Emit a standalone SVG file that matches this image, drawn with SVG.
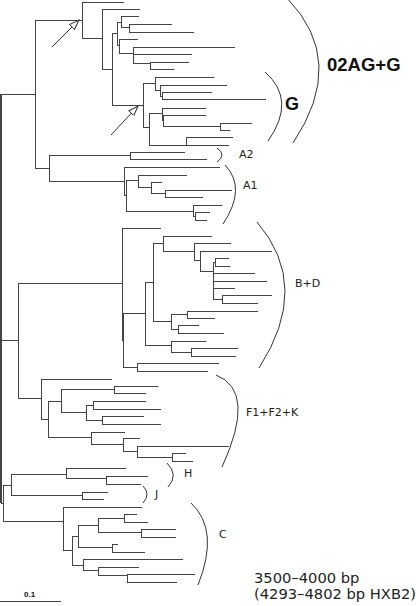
<svg xmlns="http://www.w3.org/2000/svg" width="416" height="606" viewBox="0 0 416 606">
<style>
.br{fill:none;stroke:#444;stroke-width:1;shape-rendering:crispEdges}
.bk{fill:none;stroke:#333;stroke-width:1}
.lb{font-family:"DejaVu Sans",sans-serif;font-size:11px;fill:#222}
.ft{font-family:"DejaVu Sans",sans-serif;font-size:14.7px;fill:#222}
.big{font-family:"Liberation Sans",Arial,sans-serif;font-weight:bold;fill:#111}
.ar{fill:none;stroke:#333;stroke-width:1}
</style>
<defs>
<marker id="oh" markerUnits="userSpaceOnUse" markerWidth="12" markerHeight="10" refX="10" refY="4" orient="auto">
<path d="M0,0.5 L10,4 L0,7.5 z" fill="#fff" stroke="#333" stroke-width="1"/>
</marker>
</defs>
<rect width="416" height="606" fill="#fff"/>
<g id="tree">
<path id="root" class="br" d="M1,94V503" style="stroke-width:2"/>
<path id="clade-02AG-G" class="br" d="M1,94H35 M35,20V168
M35,20H82 M82,2V38 M82,2H124 M82,38H102 M102,9V69 M102,9H140 M102,69H112 M112,33V105
M112,33H117 M117,22V45 M117,22H121 M121,16V27 M121,16H139 M121,27H129 M129,24V32 M129,24H172 M129,32H194
M117,45H119 M119,39V53 M119,39H138 M119,53H133 M133,47V63 M133,47H235 M133,54H192 M133,63H150 M150,62V69 M150,62H189 M150,69H174
M112,105H143 M143,83V127 M143,83H155 M155,77V90 M155,77H214 M155,90H160 M160,85V96 M160,85H227 M160,96H162 M162,92V99 M162,92H212 M162,99H266
M143,127H149 M149,113V145 M149,113H162 M162,108V120 M162,108H206 M162,120H163 M163,115V126 M163,115H206 M163,126H220 M220,123V130 M220,123H252 M220,130H230
M149,145H229 M186,137V145 M186,137H233"/>
<path id="clade-A" class="br" d="M35,168H49 M49,155V181 M49,155H130 M130,152V159 M130,152H185 M130,159H207
M49,181H124 M124,167V195 M124,167H220 M124,195H126 M126,180V211 M126,180H138 M138,175V187 M138,175H187 M138,187H151 M151,182V193 M151,182H162 M151,193H165 M165,190V197 M165,190H232 M165,197H203
M126,211H193 M193,205V216 M193,205H222 M193,216H195 M195,212V220 M195,212H210 M195,220H207"/>
<path id="clade-BD" class="br" d="M1,340H18 M18,283V398
M18,283H122 M122,228V340 M122,228H161 M122,340H123 M123,313V367 M123,313H145 M145,282V345 M145,282H153 M153,243V321 M153,243H163 M163,236V251 M163,236H212 M163,251H194 M194,243V260 M194,243H231 M194,260H200 M200,251V271 M200,251H272 M200,271H213 M213,262V299 M213,262H215 M215,258V266 M215,258H229 M215,266H230 M213,273H255 M213,281H267 M213,288H235 M213,299H222 M222,295V303 M222,295H272 M222,303H258
M153,321H171 M171,314V329 M171,314H187 M187,311V318 M187,311H258 M187,318H215 M171,329H178 M178,325V333 M178,325H199 M178,333H224
M145,345H171 M171,341V352 M171,341H206 M171,352H191 M191,348V356 M191,348H238 M191,356H236
M123,367H137 M137,363V371 M137,363H219 M137,371H208"/>
<path id="clade-F" class="br" d="M18,398H41 M41,379V419 M41,379H112 M41,419H48 M48,401V437 M48,401H61 M61,389V412 M61,389H114 M114,386V393 M114,386H158 M114,393H146 M61,412H86 M86,405V420 M86,405H93 M93,401V409 M93,401H146 M93,409H161 M86,420H102 M102,416V424 M102,416H144 M102,424H161
M48,437H91 M91,432V444 M91,432H125 M91,444H123 M123,438V451 M123,438H140 M123,451H137 M137,446V457 M137,446H229 M137,457H172 M172,453V461 M172,453H186 M172,461H193"/>
<path id="clade-HJC" class="br" d="M1,503H3 M3,485V521 M3,485H11 M11,474V495 M11,474H66 M66,468V478 M66,468H126 M66,478H106 M106,476V484 M106,476H148 M106,484H141 M11,495H82 M82,492V499 M82,492H108 M82,499H104
M3,521H63 M63,507V550 M63,507H142 M63,550H72 M72,536V565 M72,536H78 M78,525V547 M78,525H98 M98,518V532 M98,518H124 M124,514V522 M124,514H137 M124,522H148 M98,532H141 M141,529V537 M141,529H176 M141,537H176 M78,547H112 M112,544V552 M112,544H118 M112,552H145
M72,565H83 M83,559V570 M83,559H183 M83,570H98 M98,567V575 M98,567H139 M98,575H127 M127,574V582 M127,574H195 M127,582H177"/>
</g>
<g id="arrows">
<line class="ar" x1="52" y1="47" x2="79" y2="20" marker-end="url(#oh)"/>
<line class="ar" x1="111" y1="135" x2="138" y2="106" marker-end="url(#oh)"/>
</g>
<g id="brackets">
<path id="br-02AG" class="bk" d="M287,-2 Q348,61 293,143"/>
<path id="br-G" class="bk" d="M265,72 Q297,100 268,141"/>
<path id="br-A2" class="bk" d="M217,148 Q227,155 217,162"/>
<path id="br-A1" class="bk" d="M225,165 Q247,188 223,224"/>
<path id="br-BD" class="bk" d="M257,222 Q312,286 259,368"/>
<path id="br-F" class="bk" d="M216,375 Q257,391 222,467"/>
<path id="br-H" class="bk" d="M167,463 Q179,475 168,487"/>
<path id="br-J" class="bk" d="M143,486 Q151,494 143,503"/>
<path id="br-C" class="bk" d="M191,503 Q220,530 198,585"/>
</g>
<g id="labels">
<text class="big" x="327" y="71" font-size="18.5">02AG+G</text>
<text class="big" x="285" y="110" font-size="18">G</text>
<text class="lb" x="239" y="158">A2</text>
<text class="lb" x="243" y="189">A1</text>
<text class="lb" x="295" y="287">B+D</text>
<text class="lb" x="246" y="416">F1+F2+K</text>
<text class="lb" x="184" y="477">H</text>
<text class="lb" x="155" y="498">J</text>
<text class="lb" x="219" y="538">C</text>
<text class="ft" x="254" y="583">3500–4000 bp</text>
<text class="ft" x="254" y="599">(4293–4802 bp HXB2)</text>
</g>
<g id="scale">
<line class="br" x1="0" y1="601" x2="61" y2="601"/>
<text class="big" x="24" y="597" font-size="8">0.1</text>
</g>
</svg>
